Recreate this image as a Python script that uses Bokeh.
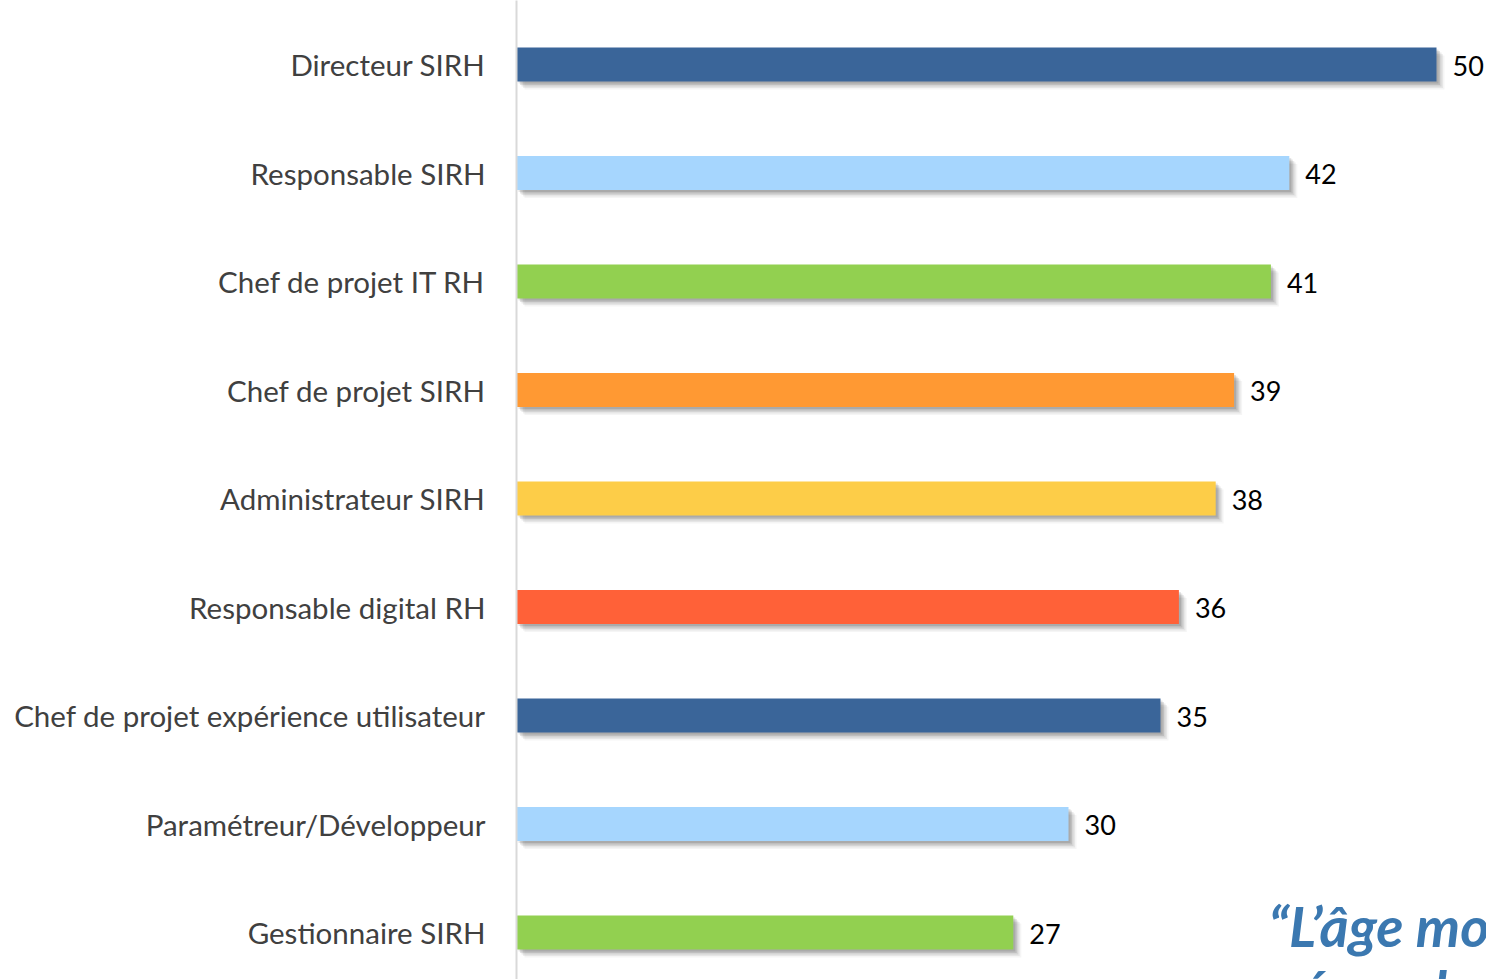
from bokeh.plotting import figure
from bokeh.models import Range1d, FixedTicker, ColumnDataSource, Label
from bokeh.core.properties import value
from bokeh.embed import file_html
from bokeh.resources import INLINE

categories = ["Directeur SIRH", "Responsable SIRH", "Chef de projet IT RH", "Chef de projet SIRH",
              "Administrateur SIRH", "Responsable digital RH", "Chef de projet expérience utilisateur",
              "Paramétreur/Développeur", "Gestionnaire SIRH"]
values = [50, 42, 41, 39, 38, 36, 35, 30, 27]
colors = ["#3a6599", "#a6d6fe", "#92d050", "#ff9933", "#fdcd48", "#ff6138", "#3a6599", "#a6d6fe", "#92d050"]
quote_lines = ["“L’âge moyen des", "répondants est de"]

FONT = "Lato"
W, H = 1486, 979
LEFT = 516
PX_X = 18.4     # pixels per unit on x
PX_Y = 108.5    # pixels per row
TOP0 = 64       # first row centre from top

idx = list(range(len(categories)))
src = ColumnDataSource(dict(y=idx, v=values, c=colors, lab=[str(v) for v in values]))

y0 = -TOP0 / PX_Y
p = figure(width=W, height=H, frame_width=W - LEFT, frame_height=H,
           x_range=Range1d(0, (W - LEFT) / PX_X), y_range=Range1d(y0 + H / PX_Y, y0),
           output_backend="svg", toolbar_location=None,
           min_border_left=LEFT, min_border_right=0, min_border_top=0, min_border_bottom=0)
p.outline_line_color = None
p.xgrid.visible = False
p.ygrid.visible = False
p.xaxis.visible = False

ax = p.yaxis[0]
ax.ticker = FixedTicker(ticks=idx)
ax.major_label_overrides = {i: c for i, c in zip(idx, categories)}
ax.major_tick_line_color = None
ax.minor_tick_line_color = None
ax.axis_line_color = "#d9d9d9"
ax.axis_line_width = 2
ax.major_label_standoff = 25
ax.major_label_text_font = FONT
ax.major_label_text_font_size = "29.5px"
ax.major_label_text_color = "#404040"

h = 34 / PX_Y
# soft drop shadow
for k, a in [(8, 0.04), (6.5, 0.06), (5, 0.08), (3.5, 0.10), (2, 0.10)]:
    sh = ColumnDataSource(dict(y=[i + k / PX_Y for i in idx], r=[v + k / PX_X for v in values]))
    p.hbar(y="y", left=k / PX_X, right="r", height=h, source=sh,
           fill_color="#000000", fill_alpha=a, line_color=None)

p.hbar(y="y", left=0, right="v", height=h, source=src, fill_color="c", line_color=None)

p.text(x="v", y="y", text="lab", source=src, x_offset=16, y_offset=1,
       text_font=value(FONT), text_font_size="27px", text_color="#000000",
       text_align="left", text_baseline="middle")

for k, line in enumerate(quote_lines):
    p.add_layout(Label(x=752 if k == 0 else 764, y=54 if k == 0 else -10, x_units="screen", y_units="screen",
                       text=line, text_font=FONT, text_font_size="56px", text_font_style="bold italic",
                       text_color="#3b78b0", text_baseline="alphabetic"))

open("out.html", "w").write(file_html(p, INLINE))
